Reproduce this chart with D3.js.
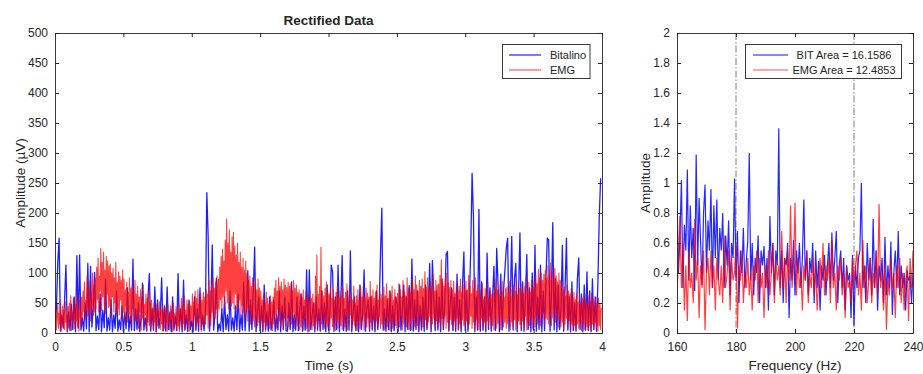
<!DOCTYPE html>
<html><head><meta charset="utf-8">
<script src="https://cdn.jsdelivr.net/npm/d3@7"></script>
<style>
body{margin:0;background:#fff;}
text{font-family:"Liberation Sans",Arial,Helvetica,sans-serif;fill:#262626;}
</style></head>
<body><svg id="chart" width="923" height="374"></svg>
<script>
// ---------- data ----------
const bitDt = 0.01;  // sample spacing (s) of the Bitalino trace
const emgDt = 0.005; // sample spacing (s) of the EMG trace
const bitalino = [
5,40,116,158,3,30,8,55,113,2,
35,4,48,6,60,2,129,8,130,5,
25,3,50,7,116,2,111,10,45,101,
4,28,6,65,2,38,9,90,3,25,
5,55,2,30,8,70,3,22,6,45,
2,35,7,75,3,28,5,123,4,40,
6,50,2,30,83,5,25,4,60,99,
3,40,5,77,2,55,8,30,92,4,
45,3,77,6,35,2,60,5,28,4,
99,7,40,2,88,5,30,3,55,6,
20,2,60,5,40,3,75,6,30,4,
35,234,161,3,45,147,5,30,91,2,
15,4,40,2,60,6,30,3,70,5,
25,3,45,6,65,2,30,5,85,4,
40,104,3,55,6,70,143,2,35,60,
4,45,2,80,6,35,3,60,5,22,
55,3,30,5,70,2,45,6,60,4,
3,50,6,85,2,30,5,60,4,40,
65,3,45,5,105,2,105,6,30,50,
2,60,5,40,3,70,6,50,2,80,
5,30,113,102,3,60,6,113,2,50,
129,4,40,3,70,5,137,2,35,60,
4,45,2,80,6,30,105,3,40,55,
3,60,5,45,2,70,6,35,130,208,
5,40,3,55,6,70,2,45,4,60,
50,3,80,5,40,80,2,60,6,79,
4,123,3,55,6,70,2,45,5,60,
3,80,6,40,116,2,121,55,4,70,
5,60,2,90,6,45,131,136,3,50,
75,4,60,3,98,6,55,2,80,135,
4,70,3,55,138,266,194,2,60,5,
206,3,85,5,60,2,133,6,75,3,
60,111,4,141,80,2,98,5,70,105,
141,158,3,60,161,5,90,116,2,70,
167,4,85,3,60,131,6,75,2,100,
5,146,3,60,6,113,2,70,4,90,
158,155,3,60,184,5,90,2,80,6,
40,146,3,75,158,5,60,2,85,4,
50,3,90,125,6,65,2,80,5,102,
4,70,2,90,6,60,3,85,194,258
];
const emg = [
12,40,5,28,48,8,33,15,55,3,22,45,10,38,6,52,18,30,2,44,
8,50,25,62,4,35,15,58,30,7,48,20,65,10,40,3,55,28,12,60,
25,70,35,85,22,55,40,95,28,75,35,88,20,60,45,100,30,80,35,92,
40,110,55,125,35,95,70,141,38,118,60,135,45,105,32,128,65,120,42,112,
45,115,30,100,60,108,35,92,50,118,28,85,40,102,30,95,55,88,25,105,
35,90,20,72,45,85,18,68,30,92,22,75,15,80,40,70,18,88,25,65,
20,78,8,60,35,72,5,55,25,80,10,48,30,65,3,58,18,70,12,52,
10,55,25,42,5,50,18,38,2,48,12,35,28,52,6,40,15,45,3,38,
8,42,20,35,3,48,15,30,5,45,22,38,2,50,10,32,18,44,4,36,
12,50,3,40,22,58,8,45,15,62,5,38,25,55,10,48,2,52,18,45,
20,65,8,52,30,70,5,58,18,72,12,48,25,66,3,55,15,68,10,60,
15,72,30,65,8,88,22,70,12,80,35,92,20,75,25,85,40,95,28,90,
40,110,55,128,38,140,60,120,45,155,70,190,50,150,40,172,55,135,45,160,
50,168,40,145,65,130,35,150,45,118,55,135,30,110,45,125,35,105,25,120,
35,100,20,88,40,95,15,78,30,92,20,80,10,85,25,72,12,90,18,75,
10,70,25,55,5,65,18,50,3,68,12,58,22,48,8,62,15,52,4,60,
15,75,30,88,8,70,40,92,20,78,10,85,35,72,5,90,25,80,12,76,
25,85,10,78,30,82,15,70,35,88,8,75,22,80,12,68,28,72,5,65,
10,60,20,72,5,55,25,68,8,62,15,52,3,70,18,58,6,65,12,50,
8,95,20,130,10,65,25,78,5,143,15,70,30,62,8,75,18,85,10,68,
15,65,5,80,25,58,10,72,30,55,4,68,18,78,8,60,22,70,12,62,
6,75,20,58,10,68,28,82,5,52,15,72,30,65,8,55,20,78,12,50,
12,62,4,72,22,55,8,78,15,60,30,70,5,58,18,75,10,66,25,60,
6,86,18,62,10,72,25,58,5,68,20,80,12,55,28,70,8,64,15,58,
14,76,5,62,25,82,10,58,20,70,4,66,15,78,8,55,22,72,12,60,
8,66,20,82,10,72,28,60,5,88,15,70,25,62,10,92,18,75,6,68,
16,76,6,86,22,72,10,95,28,80,12,70,5,88,20,78,30,90,10,74,
12,102,22,76,8,92,18,72,28,86,6,78,15,98,25,70,10,88,20,80,
10,82,18,96,6,122,24,86,12,78,28,92,8,100,18,84,5,76,22,88,
14,72,6,86,20,66,10,82,25,70,5,78,15,90,8,68,22,80,12,74,
12,86,20,72,6,96,15,78,28,66,8,88,18,74,5,92,22,70,10,80,
6,72,15,62,25,82,8,56,18,74,4,66,20,84,10,58,28,70,12,64,
12,66,5,76,20,90,8,72,16,62,28,80,6,68,22,86,10,60,18,74,
8,76,15,66,25,86,6,72,18,62,10,80,22,70,5,88,14,64,20,74,
14,72,6,82,20,66,10,78,28,92,5,70,18,84,12,68,24,88,8,76,
18,86,10,96,25,82,15,106,30,92,12,100,22,88,35,98,15,104,25,92,
22,112,15,96,30,117,12,102,25,90,40,108,18,95,28,85,10,100,22,88,
10,82,18,72,6,76,15,62,25,80,8,70,20,65,5,74,15,60,10,68,
12,56,5,66,15,52,8,62,20,48,4,58,14,54,6,64,18,50,10,46,
5,62,12,52,4,66,15,56,6,44,18,60,8,50,3,58,12,48,6,42
];
const fStart = 160, fStep = 0.5; // spectrum bins (Hz)
const bitSpectrum = [
0.88,0.4,0.65,1.02,0.3,0.72,0.55,1.09,0.35,0.85,
0.5,0.7,0.28,1.19,0.45,0.9,0.6,0.32,0.8,0.99,
0.4,0.75,0.55,0.96,0.3,0.85,0.5,0.89,0.35,0.7,
0.55,0.8,0.3,0.65,0.45,0.75,0.25,0.6,0.5,1.03,
0.35,0.68,0.2,0.55,0.4,0.7,0.3,0.48,0.62,1.2,
0.35,0.6,0.25,0.5,0.4,0.65,0.2,0.55,0.45,0.58,
0.3,0.5,0.15,0.78,0.4,0.6,0.25,0.55,0.45,1.365,
0.3,0.55,0.2,0.5,0.45,0.6,0.1,0.5,0.35,0.62,
0.25,0.55,0.4,0.6,0.3,0.5,0.89,0.35,0.55,0.25,
0.5,0.4,0.6,0.2,0.55,0.3,0.48,0.15,0.45,0.35,
0.52,0.25,0.45,0.6,0.3,0.67,0.35,0.5,0.68,0.2,
0.45,0.55,0.3,0.5,0.15,0.45,0.35,0.4,0.1,0.52,
0.05,0.45,0.3,0.5,0.55,1.0,0.3,0.45,0.2,0.6,
0.35,0.5,0.25,0.76,0.3,0.55,0.15,0.45,0.35,0.5,
0.2,0.64,0.25,0.45,0.3,0.61,0.12,0.4,0.55,0.3,
0.68,0.25,0.45,0.3,0.4,0.15,0.42,0.35,0.38,0.2,0.4
];
const emgSpectrum = [
0.25,0.5,0.78,0.3,0.6,0.15,0.45,0.08,0.55,0.3,
0.4,0.2,0.76,0.35,0.5,0.1,0.45,0.3,0.55,0.02,
0.4,0.5,0.25,0.55,0.3,0.45,0.15,0.5,0.35,0.25,
0.45,0.2,0.65,0.3,0.4,0.55,0.15,0.5,0.35,0.4,
0.6,0.03,0.45,0.35,0.55,0.2,0.4,0.3,0.5,0.25,
0.4,0.15,0.45,0.35,0.55,0.2,0.5,0.3,0.4,0.1,
0.45,0.3,0.55,0.25,0.4,0.6,0.2,0.5,0.35,0.45,
0.25,0.68,0.3,0.5,0.2,0.55,0.35,0.85,0.3,0.45,
0.87,0.25,0.5,0.3,0.4,0.15,0.45,0.35,0.55,0.2,
0.4,0.3,0.5,0.25,0.45,0.15,0.35,0.5,0.3,0.6,
0.25,0.45,0.35,0.5,0.2,0.62,0.3,0.4,0.15,0.45,
0.35,0.5,0.25,0.4,0.1,0.45,0.3,0.35,0.2,0.5,
0.3,0.45,0.55,0.25,0.4,0.15,0.62,0.3,0.45,0.2,
0.35,0.5,0.2,0.4,0.3,0.55,0.25,0.86,0.3,0.4,
0.15,0.45,0.02,0.35,0.25,0.5,0.3,0.4,0.1,0.45,
0.3,0.5,0.2,0.4,0.15,0.35,0.45,0.08,0.5,0.3,0.55
];
const bandLines = [180, 220];
const timeTicks = [0,0.5,1,1.5,2,2.5,3,3.5,4];
const ampTicks = [0,50,100,150,200,250,300,350,400,450,500];
const freqTicks = [160,180,200,220,240];
const specTicks = [0,0.2,0.4,0.6,0.8,1,1.2,1.4,1.6,1.8,2];
const legendLeft = ["Bitalino","EMG"];
const legendRight = ["BIT Area = 16.1586","EMG Area = 12.4853"];

// ---------- drawing ----------
const svg = d3.select("#chart");
const BLUE = "#0000ff", RED = "#ff0000", AX = "#262626";
const fmt = d => String(d);

function panel(opts){
  const {x0,x1,y0,y1,xdom,ydom} = opts;
  const x = d3.scaleLinear().domain(xdom).range([x0,x1]);
  const y = d3.scaleLinear().domain(ydom).range([y1,y0]);
  const id = "clip"+Math.round(x0);
  svg.append("clipPath").attr("id",id).append("rect")
    .attr("x",x0).attr("y",y0).attr("width",x1-x0).attr("height",y1-y0);
  return {x,y,id};
}
function frame(p, opts){
  const {x0,x1,y0,y1,xt,yt} = opts;
  const g = svg.append("g");
  const axB = d3.axisBottom(p.x).tickValues(xt).tickSizeInner(-4).tickSizeOuter(0).tickPadding(9).tickFormat(fmt);
  const axT = d3.axisTop(p.x).tickValues(xt).tickSizeInner(-4).tickSizeOuter(0).tickFormat("");
  const axL = d3.axisLeft(p.y).tickValues(yt).tickSizeInner(-4).tickSizeOuter(0).tickPadding(7).tickFormat(fmt);
  const axR = d3.axisRight(p.y).tickValues(yt).tickSizeInner(-4).tickSizeOuter(0).tickFormat("");
  [[axB,`translate(0,${y1})`],[axT,`translate(0,${y0})`],[axL,`translate(${x0},0)`],[axR,`translate(${x1},0)`]]
    .forEach(([a,tr])=>{
      const s = g.append("g").attr("transform",tr).call(a);
      s.select(".domain").attr("stroke",AX).attr("stroke-width",0.9);
      s.selectAll(".tick line").attr("stroke",AX);
      s.selectAll("text").attr("font-size",12).attr("fill","#333")
        .attr("font-family","'Liberation Sans',Arial,sans-serif");
    });
}

// Left panel
const L = {x0:55,x1:602,y0:33,y1:333,xdom:[0,4],ydom:[0,500],xt:timeTicks,yt:ampTicks};
const pL = panel(L);
const gl = svg.append("g").attr("clip-path",`url(#${pL.id})`);
const lineBit = d3.line().x((d,i)=>pL.x(i*bitDt)).y(d=>pL.y(d));
const lineEmg = d3.line().x((d,i)=>pL.x(i*emgDt)).y(d=>pL.y(d));
gl.append("path").datum(bitalino).attr("d",lineBit).attr("fill","none")
  .attr("stroke",BLUE).attr("stroke-width",1.3).attr("stroke-opacity",0.88).attr("stroke-linejoin","round");
gl.append("path").datum(emg).attr("d",lineEmg).attr("fill","none")
  .attr("stroke",RED).attr("stroke-width",1.1).attr("stroke-opacity",0.75).attr("stroke-linejoin","round");
frame(pL, L);

// Right panel
const R = {x0:677,x1:913,y0:33,y1:333,xdom:[160,240],ydom:[0,2],xt:freqTicks,yt:specTicks};
const pR = panel(R);
const gr = svg.append("g").attr("clip-path",`url(#${pR.id})`);
gr.selectAll("line.band").data(bandLines).join("line").attr("class","band")
  .attr("x1",d=>pR.x(d)).attr("x2",d=>pR.x(d)).attr("y1",R.y0).attr("y2",R.y1)
  .attr("stroke","#7f7f7f").attr("stroke-width",1).attr("stroke-dasharray","7,2,1.5,2");
const lineR = d3.line().x((d,i)=>pR.x(fStart+i*fStep)).y(d=>pR.y(d));
gr.append("path").datum(bitSpectrum).attr("d",lineR).attr("fill","none")
  .attr("stroke",BLUE).attr("stroke-width",1.2).attr("stroke-opacity",0.85);
gr.append("path").datum(emgSpectrum).attr("d",lineR).attr("fill","none")
  .attr("stroke",RED).attr("stroke-width",1.2).attr("stroke-opacity",0.75);
frame(pR, R);

// Titles & labels
svg.append("text").attr("x",328.5).attr("y",25).attr("text-anchor","middle")
  .attr("font-size",13.5).attr("font-weight","bold").text("Rectified Data");
svg.append("text").attr("x",329).attr("y",370).attr("text-anchor","middle")
  .attr("font-size",13.5).text("Time (s)");
svg.append("text").attr("transform","translate(25,183) rotate(-90)").attr("text-anchor","middle")
  .attr("font-size",13.5).text("Amplitude (\u00b5V)");
svg.append("text").attr("x",795).attr("y",370).attr("text-anchor","middle")
  .attr("font-size",13.5).text("Frequency (Hz)");
svg.append("text").attr("transform","translate(650,183) rotate(-90)").attr("text-anchor","middle")
  .attr("font-size",13.5).text("Amplitude");

// Legends
function legend(bx,by,bw,bh,lx0,lx1,labels,tx,anchor){
  const g = svg.append("g");
  g.append("rect").attr("x",bx).attr("y",by).attr("width",bw).attr("height",bh)
    .attr("fill","#fff").attr("stroke",AX).attr("stroke-width",0.9);
  const cols=[[BLUE,0.95],[RED,0.7]];
  labels.forEach((lab,i)=>{
    const yy = by+10.5+i*15;
    g.append("line").attr("x1",lx0).attr("x2",lx1).attr("y1",yy).attr("y2",yy)
      .attr("stroke",cols[i][0]).attr("stroke-opacity",cols[i][1]).attr("stroke-width",1.1);
    g.append("text").attr("x",tx).attr("y",yy+4).attr("text-anchor",anchor)
      .attr("font-size",11).text(lab);
  });
}
legend(502.5,44.5,87.5,34,509,541,legendLeft,550,"start");
legend(745.5,44.5,156,34,753,788,legendRight,844,"middle");
</script></body></html>
